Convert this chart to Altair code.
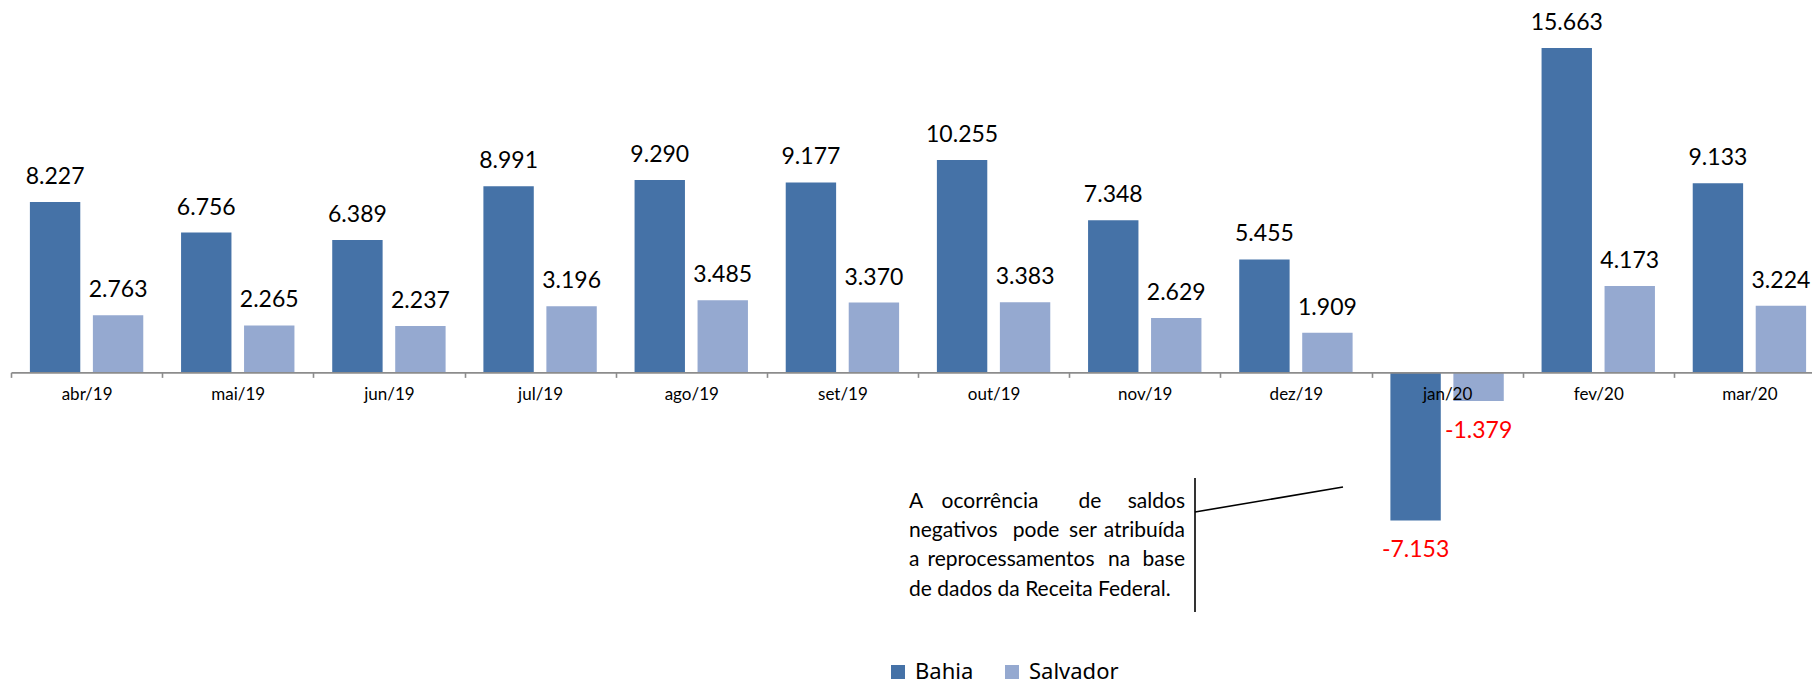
import altair as alt
import pandas as pd

months = ["abr/19", "mai/19", "jun/19", "jul/19", "ago/19", "set/19",
          "out/19", "nov/19", "dez/19", "jan/20", "fev/20", "mar/20"]
bahia = [8227, 6756, 6389, 8991, 9290, 9177, 10255, 7348, 5455, -7153, 15663, 9133]
salvador = [2763, 2265, 2237, 3196, 3485, 3370, 3383, 2629, 1909, -1379, 4173, 3224]
series = ["Bahia", "Salvador"]
colors = ["#4572a7", "#95a9d0"]

rows = []
for m, b, s in zip(months, bahia, salvador):
    for name, v in (("Bahia", b), ("Salvador", s)):
        rows.append({"month": m, "series": name, "value": v,
                     "label": f"{v:,}".replace(",", ".")})
df = pd.DataFrame(rows)

FONT = "Lato"
Y_MIN, Y_MAX = -8000, 17600
H = 530
W = 1801
X_RANGE = 1814  # the category axis runs on past the right edge, as in the original
zero_from_bottom = H * (0 - Y_MIN) / (Y_MAX - Y_MIN)

x_enc = alt.X("month:N", sort=months, title=None,
              scale=alt.Scale(paddingInner=0, paddingOuter=0, range=[0, X_RANGE]),
              axis=alt.Axis(offset=-zero_from_bottom, tickBand="extent",
                            domainColor="#8c8c8c", domainWidth=1.6,
                            tickColor="#8c8c8c", tickWidth=1.6, tickSize=5,
                            labelFont=FONT, labelFontSize=17, labelColor="#000000",
                            labelPadding=9, labelAngle=0, zindex=2))
xo_enc = alt.XOffset("series:N", sort=series,
                     scale=alt.Scale(paddingInner=0.2, paddingOuter=0.3))
y_enc = alt.Y("value:Q", scale=alt.Scale(domain=[Y_MIN, Y_MAX], nice=False), axis=None)

base = alt.Chart(df).encode(x=x_enc, xOffset=xo_enc, y=y_enc)

bars = base.mark_bar().encode(
    color=alt.Color("series:N", sort=series,
                    scale=alt.Scale(domain=series, range=colors),
                    legend=alt.Legend(title=None, orient="none", direction="horizontal",
                                      legendX=876, legendY=653, padding=0,
                                      symbolType="square", symbolSize=196,
                                      symbolStrokeWidth=0, symbolOpacity=1,
                                      labelFont="Noto Sans", labelFontSize=22,
                                      labelColor="#000000", labelOffset=6,
                                      columnPadding=27))
)

pos_labels = base.transform_filter("datum.value >= 0").mark_text(
    font=FONT, fontSize=23, baseline="alphabetic", dy=-18, color="#000000"
).encode(text="label:N")

neg_labels = base.transform_filter("datum.value < 0").mark_text(
    font=FONT, fontSize=23, baseline="alphabetic", dy=37, color="#ff0000"
).encode(text="label:N")

one = pd.DataFrame({"k": [0]})
OX, OY = 11, 8  # plot origin on the page

def rule(x1, y1, x2, y2):
    return alt.Chart(one).mark_rule(color="#000000", strokeWidth=1.6).encode(
        x=alt.value(x1 - OX), y=alt.value(y1 - OY),
        x2=alt.value(x2 - OX), y2=alt.value(y2 - OY))

def word(text, x, y, align):
    return alt.Chart(one).mark_text(
        text=text, font=FONT, fontSize=21, align=align, baseline="alphabetic",
        color="#000000").encode(x=alt.value(x - OX), y=alt.value(y - OY))

note = [
    (508, [("A", 909, "left"), ("ocorrência", 990, "center"),
           ("de", 1090, "center"), ("saldos", 1185, "right")]),
    (537, [("negativos", 909, "left"), ("pode", 1036, "center"),
           ("ser", 1083, "center"), ("atribuída", 1185, "right")]),
    (566, [("a", 909, "left"), ("reprocessamentos", 1011, "center"),
           ("na", 1119, "center"), ("base", 1185, "right")]),
    (596, [("de dados da Receita Federal.", 909, "left")]),
]
note_layers = [word(t, x, y, a) for y, ws in note for (t, x, a) in ws]

layers = [bars, pos_labels, neg_labels,
          rule(1195, 478, 1195, 612), rule(1195, 512, 1343, 487)] + note_layers

chart = alt.layer(*layers).properties(
    width=W, height=H, autosize="none",
    padding={"left": 3, "top": 0, "right": 0, "bottom": 150},
    background="#ffffff"
).configure_view(stroke=None)

chart.save("out.html", embed_options={"renderer": "svg", "actions": False})
